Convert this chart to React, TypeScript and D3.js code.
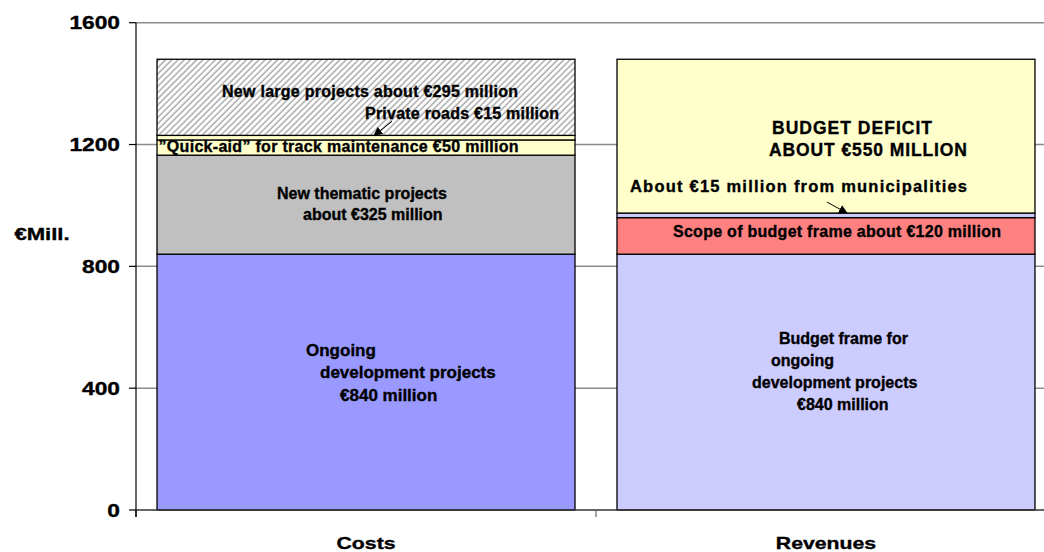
import React from "react";
import * as d3 from "d3";

const categories = ["Costs", "Revenues"];
const costNames = ["Ongoing development projects", "New thematic projects", "Quick-aid for track maintenance", "Private roads", "New large projects"];
const costValues = [840, 325, 50, 15, 250];
const revenueNames = ["Budget frame for ongoing development projects", "Scope of budget frame", "From municipalities", "Budget deficit"];
const revenueValues = [840, 120, 15, 505];
const yTicks = [0, 400, 800, 1200, 1600];
const yLabel = "€Mill.";

const costFills = ["#9999FF", "#C0C0C0", "#FFFFCC", "#FFFFCC", "url(#hatch)"];
const revenueFills = ["#CCCCFF", "#FF8080", "#CCCCFF", "#FFFFCC"];

const W = 1044;
const H = 552;
const FONT = "'Liberation Sans', Arial, sans-serif";

function stackOf(values: number[]) {
  let acc = 0;
  return values.map((v) => {
    const s = { y0: acc, y1: acc + v };
    acc += v;
    return s;
  });
}

type TProps = { x: number; y: number; size?: number; anchor?: string; len?: number; sx?: number; children: React.ReactNode };
function T({ x, y, size = 16, anchor = "start", len, sx, children }: TProps) {
  const common = {
    fontSize: size,
    fontWeight: "bold",
    fontFamily: FONT,
    textAnchor: anchor,
    fill: "#000",
    stroke: "#000",
    strokeWidth: 0.35,
  } as any;
  if (sx) {
    return (
      <text transform={`translate(${x},${y}) scale(${sx},1)`} {...common}>
        {children}
      </text>
    );
  }
  return (
    <text x={x} y={y} {...common} {...(len ? { textLength: len } : {})}>
      {children}
    </text>
  );
}

export default function App() {
  const y = d3.scaleLinear().domain([0, 1600]).range([510, 22.7]);
  const x = d3.scaleBand<string>().domain(categories).range([136, 1056]).paddingInner(0.0913).paddingOuter(0.0457);
  const bw = x.bandwidth();
  const cx = x("Costs")!;
  const rx = x("Revenues")!;
  const costStack = stackOf(costValues);
  const revStack = stackOf(revenueValues);
  const step = x.step();
  const axisLeft = 136;
  const catBoundaries = categories.map((_, i) => axisLeft + i * step);

  return (
    <div style={{ position: "absolute", left: 0, top: 0 }}>
      <svg width={W} height={H} style={{ display: "block", background: "#fff" }}>
        <defs>
          <pattern id="hatch" patternUnits="userSpaceOnUse" width="4.4" height="4.4" patternTransform="rotate(45)">
            <rect width="4.4" height="4.4" fill="#ffffff" />
            <line x1="1" y1="0" x2="1" y2="4.4" stroke="#a6a6a6" strokeWidth="1.4" />
          </pattern>
          <marker id="arrow" viewBox="0 0 10 10" refX="9" refY="5" markerWidth="9" markerHeight="9" orient="auto" markerUnits="userSpaceOnUse">
            <path d="M0,0 L10,5 L0,10 Z" fill="#000" />
          </marker>
        </defs>

        {/* gridlines */}
        {yTicks.filter((t) => t > 0).map((t) => (
          <line key={"g" + t} x1={axisLeft} x2={W} y1={y(t)} y2={y(t)} stroke="#8c8c8c" strokeWidth={1.5} />
        ))}

        {/* cost bars */}
        {costStack.map((s, i) => (
          <rect key={"c" + costNames[i]} x={cx} width={bw} y={y(s.y1)} height={y(s.y0) - y(s.y1)} fill={costFills[i]} stroke="#000" strokeWidth={1.3} />
        ))}
        {/* revenue bars */}
        {revStack.map((s, i) => (
          <rect key={"r" + revenueNames[i]} x={rx} width={bw} y={y(s.y1)} height={y(s.y0) - y(s.y1)} fill={revenueFills[i]} stroke="#000" strokeWidth={1.3} />
        ))}

        {/* axes */}
        <line x1={axisLeft} x2={axisLeft} y1={y(1600)} y2={517} stroke="#000" strokeWidth={1.2} />
        <line x1={axisLeft} x2={W} y1={y(0)} y2={y(0)} stroke="#333" strokeWidth={1.3} />
        {yTicks.map((t) => (
          <line key={"t" + t} x1={129} x2={axisLeft} y1={y(t)} y2={y(t)} stroke="#000" strokeWidth={1.2} />
        ))}
        {catBoundaries.map((b, i) => (
          <line key={"xb" + i} x1={b} x2={b} y1={y(0)} y2={517} stroke={i === 0 ? "#000" : "#666"} strokeWidth={1.2} />
        ))}

        {/* tick labels */}
        {yTicks.map((t) => (
          <T key={"l" + t} x={120} y={y(t) + 6.5} size={17.5} anchor="end" sx={1.3}>
            {t}
          </T>
        ))}
        <T x={42} y={239.5} size={17} anchor="middle" sx={1.3}>{yLabel}</T>
        {categories.map((c) => (
          <T key={"cat" + c} x={x(c)! + bw / 2} y={549} size={17} anchor="middle" sx={1.25}>
            {c}
          </T>
        ))}

        {/* cost annotations */}
        <T x={cx + 65} y={96.5} len={296}>New large projects about €295 million</T>
        <T x={cx + 208} y={118.5} len={194}>Private roads €15 million</T>
        <line x1={cx + 235} y1={y(1230) - 14} x2={cx + 217} y2={y(1230)} stroke="#000" strokeWidth={1} markerEnd="url(#arrow)" />
        <T x={cx + 1.5} y={151.5} len={360}>”Quick-aid” for track maintenance €50 million</T>
        <T x={cx + 120} y={198.5}>New thematic projects</T>
        <T x={cx + 146} y={219.5}>about €325 million</T>
        <T x={cx + 149} y={356} size={17}>Ongoing</T>
        <T x={cx + 163} y={378} size={17}>development projects</T>
        <T x={cx + 183} y={401} size={17}>€840 million</T>

        {/* revenue annotations */}
        <T x={rx + 155} y={133.5} size={17.5} len={160}>BUDGET DEFICIT</T>
        <T x={rx + 152} y={155.5} size={17.5} len={198}>ABOUT €550 MILLION</T>
        <T x={rx + 13} y={191.5} size={16.5} len={337}>About €15 million from municipalities</T>
        <line x1={rx + 210} y1={y(975) - 11} x2={rx + 230} y2={y(975)} stroke="#000" strokeWidth={1} markerEnd="url(#arrow)" />
        <T x={rx + 56} y={236.8} len={328}>Scope of budget frame about €120 million</T>
        <T x={rx + 162} y={344}>Budget frame for</T>
        <T x={rx + 154} y={365.5}>ongoing</T>
        <T x={rx + 135} y={387.5}>development projects</T>
        <T x={rx + 180} y={409.5}>€840 million</T>
      </svg>
    </div>
  );
}
